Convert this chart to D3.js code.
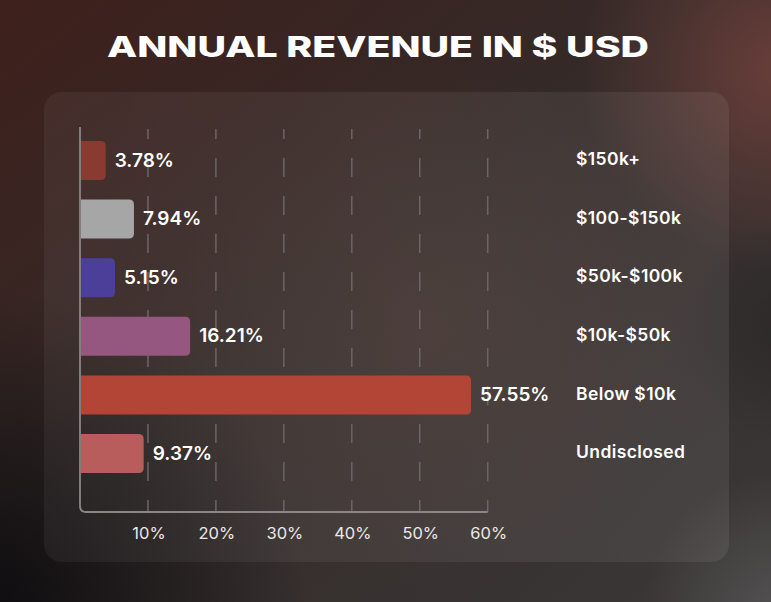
<!DOCTYPE html>
<html>
<head>
<meta charset="utf-8">
<script src="https://cdn.jsdelivr.net/npm/d3@7"></script>
<style>
  html, body { margin: 0; padding: 0; background: #2a2222; }
  svg { display: block; }
</style>
</head>
<body>
<svg id="chart" width="771" height="602"></svg>
<script>
// ---- data ----
const categories = ["$150k+", "$100-$150k", "$50k-$100k", "$10k-$50k", "Below $10k", "Undisclosed"];
const values = [3.78, 7.94, 5.15, 16.21, 57.55, 9.37];
const valueLabels = ["3.78%", "7.94%", "5.15%", "16.21%", "57.55%", "9.37%"];
const tickValues = [10, 20, 30, 40, 50, 60];
const tickLabels = ["10%", "20%", "30%", "40%", "50%", "60%"];
const title = "ANNUAL REVENUE IN $ USD";

// ---- palette ----
const palette = ["#8a3b31", "#a6a6a6", "#4b3f99", "#955680", "#b24536", "#b85c5c"];

const W = 771, H = 602;
const svg = d3.select("#chart");
const defs = svg.append("defs");

function radial(id, cx, cy, r, color, op) {
  const g = defs.append("radialGradient").attr("id", id)
    .attr("gradientUnits", "userSpaceOnUse")
    .attr("cx", cx).attr("cy", cy).attr("r", r);
  g.append("stop").attr("offset", 0).attr("stop-color", color).attr("stop-opacity", op);
  g.append("stop").attr("offset", 1).attr("stop-color", color).attr("stop-opacity", 0);
}
const lg = defs.append("linearGradient").attr("id", "bg")
  .attr("x1", 0).attr("y1", 0).attr("x2", 1).attr("y2", 1);
lg.append("stop").attr("offset", 0).attr("stop-color", "#3e201c");
lg.append("stop").attr("offset", 0.45).attr("stop-color", "#342a28");
lg.append("stop").attr("offset", 1).attr("stop-color", "#3a3838");

radial("gTR", 780, 70, 200, "#6e403b", 0.9);
radial("gBL", -20, 620, 330, "#0c0b0e", 1);
radial("gBR", 790, 620, 150, "#5a5858", 0.85);
radial("gC", 430, 330, 260, "#4a3834", 0.55);
radial("gR", 790, 330, 110, "#262525", 0.7);

svg.append("rect").attr("width", W).attr("height", H).attr("fill", "url(#bg)");
["gC", "gTR", "gR", "gBL", "gBR"].forEach(id =>
  svg.append("rect").attr("width", W).attr("height", H).attr("fill", `url(#${id})`));

// panel
const pg = defs.append("linearGradient").attr("id", "panel")
  .attr("x1", 0).attr("y1", 0).attr("x2", 1).attr("y2", 0);
pg.append("stop").attr("offset", 0).attr("stop-color", "#ffffff").attr("stop-opacity", 0.05);
pg.append("stop").attr("offset", 1).attr("stop-color", "#ffffff").attr("stop-opacity", 0.07);
svg.append("rect").attr("x", 44).attr("y", 92).attr("width", 685).attr("height", 470)
  .attr("rx", 18).attr("fill", "url(#panel)");

// title
svg.append("text")
  .attr("x", 107).attr("y", 57)
  .attr("textLength", 542).attr("lengthAdjust", "spacingAndGlyphs")
  .attr("font-family", "Inter, 'DejaVu Sans', sans-serif")
  .attr("font-weight", 800).attr("font-size", 29)
  .attr("fill", "#ffffff")
  .text(title);

// scales
const x = d3.scaleLinear().domain([0, 60]).range([80, 487.7]);
const y = d3.scaleBand().domain(categories).range([111.7, 502.3])
  .paddingInner(0.334).paddingOuter(0.5);

const axisY0 = 129, axisY1 = 512;

// dashed gridlines
svg.append("g").selectAll("line").data(tickValues).join("line")
  .attr("x1", d => x(d)).attr("x2", d => x(d))
  .attr("y1", axisY0).attr("y2", axisY1)
  .attr("stroke", "#6c6566").attr("stroke-width", 1.5)
  .attr("stroke-dasharray", "19 19").attr("stroke-dashoffset", 9);

// axis frame (left + bottom with rounded corner)
const x0 = x(0), xEnd = x(60), r = 6;
svg.append("path")
  .attr("d", `M${x0},${axisY0 - 2} V${axisY1 - r} Q${x0},${axisY1} ${x0 + r},${axisY1} H${xEnd}`)
  .attr("fill", "none").attr("stroke", "#8c8687").attr("stroke-width", 1.8);

// tick labels
svg.append("g").selectAll("text").data(tickValues).join("text")
  .attr("x", d => x(d) + 1).attr("y", 534)
  .attr("text-anchor", "middle").attr("dominant-baseline", "middle")
  .attr("font-family", "Inter, sans-serif").attr("font-size", 16.5).attr("font-weight", 400)
  .attr("fill", "#ece8e8")
  .text((d, i) => tickLabels[i]);

// bars
const br = 5;
function barPath(v, cat) {
  const xs = x0 + 1, xe = x(v), yt = y(cat), h = y.bandwidth();
  return `M${xs},${yt} H${xe - br} Q${xe},${yt} ${xe},${yt + br} V${yt + h - br} Q${xe},${yt + h} ${xe - br},${yt + h} H${xs} Z`;
}
svg.append("g").selectAll("path").data(values).join("path")
  .attr("d", (d, i) => barPath(d, categories[i]))
  .attr("fill", (d, i) => palette[i]);

// value labels
svg.append("g").selectAll("text").data(values).join("text")
  .attr("x", d => x(d) + 9)
  .attr("y", (d, i) => y(categories[i]) + y.bandwidth() / 2 + 1)
  .attr("dominant-baseline", "middle")
  .attr("font-family", "Inter, sans-serif").attr("font-size", 19).attr("font-weight", 600)
  .attr("fill", "#ffffff")
  .text((d, i) => valueLabels[i]);

// category labels
svg.append("g").selectAll("text").data(categories).join("text")
  .attr("x", 576)
  .attr("y", d => y(d) + y.bandwidth() / 2)
  .attr("dominant-baseline", "middle")
  .attr("font-family", "Inter, sans-serif").attr("font-size", 17.5).attr("font-weight", 600)
  .attr("letter-spacing", 0.4)
  .attr("fill", "#ffffff")
  .text(d => d);
</script>
</body>
</html>
